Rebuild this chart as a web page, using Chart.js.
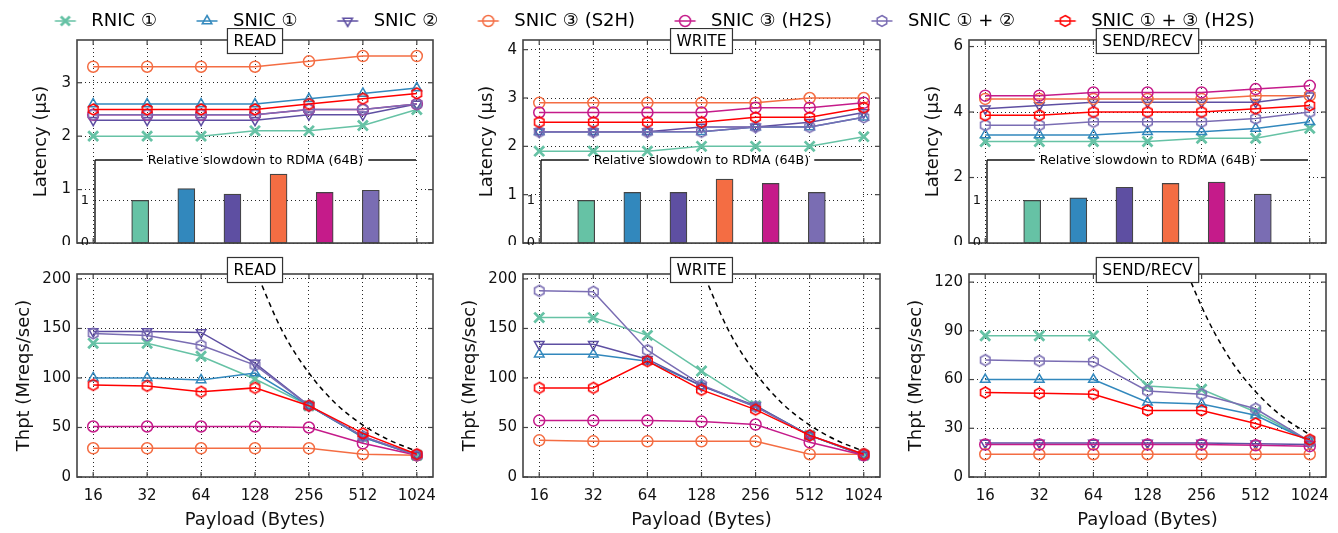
<!DOCTYPE html>
<html>
<head>
<meta charset="utf-8">
<script src="https://cdn.jsdelivr.net/npm/chart.js@4.4.1/dist/chart.umd.min.js"></script>
<style>
html,body{margin:0;padding:0;background:#fff;}
#wrap{position:relative;width:1338px;height:533px;overflow:hidden;background:#fff;}
#wrap canvas{position:absolute;}
</style>
</head>
<body>
<div id="wrap"></div>
<script>
const PAYLOADS = [16, 32, 64, 128, 256, 512, 1024];
const SERIES = ['RNIC ①', 'SNIC ①', 'SNIC ②', 'SNIC ③ (S2H)', 'SNIC ③ (H2S)', 'SNIC ① + ②', 'SNIC ① + ③ (H2S)'];
const COLORS = ['#66c2a5', '#3288bd', '#5e4fa2', '#f46d43', '#c51b8a', '#7a6db3', '#ff0000'];
const MARKERS = ['crossRot', 'triangle', 'triangleDown', 'circle', 'circle', 'hexagon', 'hexagon'];

// latency (us), one row per series
const readLatency = [
  [2.0, 2.0, 2.0, 2.1, 2.1, 2.2, 2.5],
  [2.6, 2.6, 2.6, 2.6, 2.7, 2.8, 2.9],
  [2.3, 2.3, 2.3, 2.3, 2.4, 2.4, 2.6],
  [3.3, 3.3, 3.3, 3.3, 3.4, 3.5, 3.5],
  [2.4, 2.4, 2.4, 2.4, 2.5, 2.5, 2.6],
  [2.4, 2.4, 2.4, 2.4, 2.5, 2.5, 2.6],
  [2.5, 2.5, 2.5, 2.5, 2.6, 2.7, 2.8]
];
const writeLatency = [
  [1.9, 1.9, 1.9, 2.0, 2.0, 2.0, 2.2],
  [2.3, 2.3, 2.3, 2.3, 2.4, 2.4, 2.6],
  [2.3, 2.3, 2.3, 2.4, 2.4, 2.5, 2.7],
  [2.9, 2.9, 2.9, 2.9, 2.9, 3.0, 3.0],
  [2.7, 2.7, 2.7, 2.7, 2.8, 2.8, 2.9],
  [2.3, 2.3, 2.3, 2.3, 2.4, 2.4, 2.6],
  [2.5, 2.5, 2.5, 2.5, 2.6, 2.6, 2.8]
];
const sendLatency = [
  [3.1, 3.1, 3.1, 3.1, 3.2, 3.2, 3.5],
  [3.3, 3.3, 3.3, 3.4, 3.4, 3.5, 3.7],
  [4.1, 4.2, 4.3, 4.3, 4.3, 4.3, 4.5],
  [4.4, 4.4, 4.4, 4.4, 4.4, 4.5, 4.5],
  [4.5, 4.5, 4.6, 4.6, 4.6, 4.7, 4.8],
  [3.6, 3.6, 3.7, 3.7, 3.7, 3.8, 4.0],
  [3.9, 3.9, 4.0, 4.0, 4.0, 4.1, 4.2]
];

// throughput (Mreqs/sec)
const readThpt = [
  [135, 135, 122, 99, 72, 40, 22],
  [100, 100, 98, 105, 72, 40, 22],
  [147, 147, 146, 115, 72, 41, 22],
  [29, 29, 29, 29, 29, 23, 22],
  [51, 51, 51, 51, 50, 34, 22],
  [145, 143, 133, 113, 72, 41, 22],
  [93, 92, 86, 90, 72, 44, 23]
];
const writeThpt = [
  [161, 161, 143, 107, 72, 42, 22],
  [124, 124, 117, 92, 71, 42, 22],
  [134, 134, 119, 92, 72, 42, 22],
  [37, 36, 36, 36, 36, 23, 23],
  [57, 57, 57, 56, 53, 35, 22],
  [188, 187, 128, 93, 71, 42, 23],
  [90, 90, 117, 88, 68, 42, 23]
];
const sendThpt = [
  [87, 87, 87, 56, 54, 40, 22],
  [60, 60, 60, 46, 45, 38, 22],
  [21, 21, 21, 21, 21, 20.5, 20],
  [14, 14, 14, 14, 14, 14, 14],
  [20, 20, 20, 20, 20, 19.5, 19],
  [72, 71.5, 71, 53, 51, 42, 22],
  [52, 51.5, 51, 41, 41, 33, 23]
];

// dashed bound curve
const BOUND_PAYLOAD = [128, 181, 256, 362, 512, 724, 1024];
const BOUND_THPT = [210, 148, 105, 74, 52.5, 37, 26];

// inset: relative slowdown to RDMA (64B), first six series
const readSlowdown = [1.0, 1.28, 1.15, 1.62, 1.19, 1.24];
const writeSlowdown = [1.0, 1.19, 1.19, 1.5, 1.40, 1.19];
const sendSlowdown = [1.0, 1.06, 1.31, 1.40, 1.43, 1.15];

const FONT = 'DejaVu Sans';
Chart.defaults.font.family = FONT;
Chart.defaults.color = '#000';

const PANELS = [
  {name: 'READ', lat: readLatency, latMax: 3.8, latStep: 1, thpt: readThpt, thptMax: 205, thptStep: 50, slow: readSlowdown},
  {name: 'WRITE', lat: writeLatency, latMax: 4.2, latStep: 1, thpt: writeThpt, thptMax: 205, thptStep: 50, slow: writeSlowdown},
  {name: 'SEND/RECV', lat: sendLatency, latMax: 6.2, latStep: 2, thpt: sendThpt, thptMax: 125, thptStep: 30, slow: sendSlowdown}
];
const PLOT_LEFT = [77, 523, 969], PLOT_RIGHT = [433, 880, 1326];
const INSET_X = [[95, 416], [541, 862], [987, 1308]];

function addCanvas(left, top, w, h){
  const c = document.createElement('canvas');
  c.width = w; c.height = h;
  c.style.left = left + 'px'; c.style.top = top + 'px';
  c.style.width = w + 'px'; c.style.height = h + 'px';
  document.getElementById('wrap').appendChild(c);
  return c;
}

// glyph drawn at (cx, cy); used for hexagon points and legend swatches
function markerImg(style, color, w, h, cx, lineFrom, lineTo){
  const c = document.createElement('canvas');
  c.width = w; c.height = h;
  const g = c.getContext('2d');
  const cy = h / 2, r = 5.5;
  g.strokeStyle = color; g.lineWidth = 1.5;
  if(lineTo > lineFrom){ g.beginPath(); g.moveTo(lineFrom, cy); g.lineTo(lineTo, cy); g.stroke(); }
  g.beginPath();
  if(style === 'circle'){ g.arc(cx, cy, r, 0, Math.PI * 2); }
  else if(style === 'hexagon'){
    for(let k = 0; k < 6; k++){
      const a = -Math.PI / 2 + k * Math.PI / 3;
      const px = cx + Math.cos(a) * r, py = cy + Math.sin(a) * r;
      if(k === 0) g.moveTo(px, py); else g.lineTo(px, py);
    }
    g.closePath();
  }
  else if(style === 'triangle'){ g.moveTo(cx, cy - r); g.lineTo(cx + r * 0.87, cy + r * 0.5); g.lineTo(cx - r * 0.87, cy + r * 0.5); g.closePath(); }
  else if(style === 'triangleDown'){ g.moveTo(cx, cy + r); g.lineTo(cx + r * 0.87, cy - r * 0.5); g.lineTo(cx - r * 0.87, cy - r * 0.5); g.closePath(); }
  else { g.lineWidth = 2.8; const d = 4.5; g.moveTo(cx - d, cy - d); g.lineTo(cx + d, cy + d); g.moveTo(cx + d, cy - d); g.lineTo(cx - d, cy + d); }
  g.stroke();
  return c;
}

const hexImgs = COLORS.map(function(c){ return markerImg('hexagon', c, 15, 15, 7.5, 0, 0); });
const LEG_W = 55;
const legendImgs = MARKERS.map(function(m, i){ return markerImg(m, COLORS[i], LEG_W, 16, 38, 27.5, 48.5); });

function lineSets(rows){
  return rows.map(function(vals, i){
    const m = MARKERS[i];
    return {
      label: SERIES[i],
      data: PAYLOADS.map(function(p, k){ return {x: p, y: vals[k]}; }),
      borderColor: COLORS[i],
      backgroundColor: COLORS[i],
      borderWidth: 1.5,
      pointStyle: m === 'triangleDown' ? 'triangle' : (m === 'hexagon' ? hexImgs[i] : m),
      pointRotation: m === 'triangleDown' ? 180 : 0,
      pointRadius: m === 'crossRot' ? 7 : 5.5,
      pointBorderWidth: m === 'crossRot' ? 2.8 : 1.5,
      pointBackgroundColor: 'rgba(0,0,0,0)',
      pointBorderColor: COLORS[i],
      tension: 0,
      order: rows.length - i
    };
  });
}

function line(ctx, x1, y1, x2, y2){ ctx.beginPath(); ctx.moveTo(x1, y1); ctx.lineTo(x2, y2); ctx.stroke(); }

const panelDecor = {
  id: 'panelDecor',
  afterDraw(chart, args, o){
    const ctx = chart.ctx, a = chart.chartArea, xs = chart.scales.x, ys = chart.scales.y;
    ctx.save();
    ctx.strokeStyle = '#444'; ctx.lineWidth = 1.2;
    ys.ticks.forEach(function(t){
      const p = ys.getPixelForValue(t.value);
      line(ctx, a.left, p, a.left + 5, p); line(ctx, a.right - 5, p, a.right, p);
    });
    xs.ticks.forEach(function(t){
      const p = xs.getPixelForValue(t.value);
      line(ctx, p, a.top, p, a.top + 5); line(ctx, p, a.bottom - 5, p, a.bottom);
    });
    ctx.lineWidth = 1.6;
    ctx.strokeRect(a.left, a.top, a.right - a.left, a.bottom - a.top);
    ctx.font = '15.5px "' + FONT + '"';
    const w = ctx.measureText(o.text).width + 12, h = 25;
    const cx = (a.left + a.right) / 2, cy = a.top + o.dy;
    ctx.fillStyle = '#fff'; ctx.fillRect(cx - w / 2, cy - h / 2, w, h);
    ctx.lineWidth = 1.2; ctx.strokeStyle = '#333'; ctx.strokeRect(cx - w / 2, cy - h / 2, w, h);
    ctx.fillStyle = '#000'; ctx.textAlign = 'center'; ctx.textBaseline = 'middle';
    ctx.fillText(o.text, cx, cy + 1);
    ctx.restore();
  }
};

const insetDecor = {
  id: 'insetDecor',
  beforeDraw(chart){
    const a = chart.chartArea, ctx = chart.ctx;
    ctx.save(); ctx.fillStyle = '#fff'; ctx.fillRect(a.left, a.top, a.right - a.left, a.bottom - a.top); ctx.restore();
  },
  afterDraw(chart, args, o){
    const a = chart.chartArea, ctx = chart.ctx;
    ctx.save();
    ctx.strokeStyle = '#111'; ctx.lineWidth = 1.4;
    line(ctx, a.left, a.top, a.left, a.bottom);
    ctx.strokeStyle = '#444'; ctx.lineWidth = 1.6;
    line(ctx, a.left, a.bottom, a.right, a.bottom);
    ctx.font = '12.7px "' + FONT + '"';
    const tw = ctx.measureText(o.text).width, cx = (a.left + a.right) / 2;
    ctx.strokeStyle = '#111'; ctx.lineWidth = 1.4;
    line(ctx, a.left, a.top, cx - tw / 2 - 5, a.top);
    line(ctx, cx + tw / 2 + 5, a.top, a.right, a.top);
    ctx.fillStyle = '#000'; ctx.textAlign = 'center'; ctx.textBaseline = 'middle';
    ctx.fillText(o.text, cx, a.top + 1);
    ctx.restore();
  }
};

const GRID = {color: 'rgba(0,0,0,0.85)', lineWidth: 1, drawTicks: false};
const BORDER = {display: false, dash: [1, 3]};

function fixW(width){ return function(s){ s.width = width; s.paddingTop = 0; s.paddingBottom = 0; }; }
function fixH(height){ return function(s){ s.height = height; s.paddingLeft = 0; s.paddingRight = 0; }; }

function xAxis(showLabels, height){
  return {
    type: 'logarithmic',
    min: PAYLOADS[0] / Math.pow(2, 0.3),
    max: PAYLOADS[PAYLOADS.length - 1] * Math.pow(2, 0.3),
    afterBuildTicks: function(s){ s.ticks = PAYLOADS.map(function(v){ return {value: v}; }); },
    afterFit: fixH(height),
    grid: GRID, border: BORDER,
    ticks: {display: showLabels, autoSkip: false, maxRotation: 0, padding: 10, color: '#111',
      font: {size: 15}, callback: function(v){ return String(v); }},
    title: {display: showLabels, text: 'Payload (Bytes)', font: {size: 18}, color: '#111', padding: {top: 0, bottom: 2}}
  };
}

function yAxis(max, step, title, width){
  return {
    min: 0, max: max,
    afterFit: fixW(width),
    grid: GRID, border: BORDER,
    ticks: {stepSize: step, includeBounds: false, padding: 6, color: '#111', font: {size: 15}},
    title: {display: true, text: title, font: {size: 18}, color: '#111', padding: {top: 4, bottom: 0}}
  };
}

PANELS.forEach(function(P, col){
  const pl = PLOT_LEFT[col], pr = PLOT_RIGHT[col];

  // latency panel
  const cTop = addCanvas(pl - 50, 28, pr + 2 - (pl - 50), 217);
  new Chart(cTop, {
    type: 'line',
    data: {datasets: lineSets(P.lat)},
    options: {
      responsive: false, animation: false, devicePixelRatio: 1,
      layout: {autoPadding: false, padding: {top: 12, right: 2, bottom: 2, left: 0}},
      scales: {x: xAxis(false, 0), y: yAxis(P.latMax, P.latStep, 'Latency (μs)', 50)},
      plugins: {legend: {display: false}, tooltip: {enabled: false}, panelDecor: {text: P.name, dy: 1}}
    },
    plugins: [panelDecor]
  });

  // inset bar chart
  const ix = INSET_X[col];
  const cIn = addCanvas(ix[0] - 25, 150, ix[1] + 2 - (ix[0] - 25), 95);
  new Chart(cIn, {
    type: 'bar',
    data: {datasets: [{
      label: 'slowdown',
      data: P.slow.map(function(v, k){ return {x: k, y: v}; }),
      backgroundColor: COLORS.slice(0, P.slow.length),
      borderColor: '#444', borderWidth: 1.2, borderSkipped: false,
      barThickness: 17
    }]},
    options: {
      responsive: false, animation: false, devicePixelRatio: 1,
      layout: {autoPadding: false, padding: {top: 10, right: 2, bottom: 2, left: 0}},
      scales: {
        x: {type: 'linear', display: false, min: -0.4, max: P.slow.length - 0.6},
        y: {min: 0, max: 1.95,
          afterFit: fixW(25),
          afterBuildTicks: function(s){ s.ticks = [{value: 0}, {value: 1}]; },
          grid: {color: 'rgba(0,0,0,0.85)', drawTicks: false, lineWidth: function(c){ return c.tick && c.tick.value === 1 ? 1 : 0; }},
          border: {display: false, dash: [1, 3]},
          ticks: {padding: 6, color: '#111', font: {size: 13}}}
      },
      plugins: {legend: {display: false}, tooltip: {enabled: false}, insetDecor: {text: 'Relative slowdown to RDMA (64B)'}}
    },
    plugins: [insetDecor]
  });

  // throughput panel
  const sets = lineSets(P.thpt);
  sets.push({
    label: 'bound',
    data: BOUND_PAYLOAD.map(function(p, k){ return {x: p, y: BOUND_THPT[k]}; }),
    borderColor: '#000', borderWidth: 1.5, borderDash: [5, 4],
    pointRadius: 0, cubicInterpolationMode: 'monotone', order: 20
  });
  const cBot = addCanvas(pl - 67, 256, pr + 2 - (pl - 67), 277);
  new Chart(cBot, {
    type: 'line',
    data: {datasets: sets},
    options: {
      responsive: false, animation: false, devicePixelRatio: 1,
      layout: {autoPadding: false, padding: {top: 18, right: 2, bottom: 0, left: 0}},
      scales: {x: xAxis(true, 56), y: yAxis(P.thptMax, P.thptStep, 'Thpt (Mreqs/sec)', 67)},
      plugins: {legend: {display: false}, tooltip: {enabled: false}, panelDecor: {text: P.name, dy: -4}}
    },
    plugins: [panelDecor]
  });
});

// shared legend across the top
const cLeg = addCanvas(0, 0, 1338, 120);
cLeg.style.pointerEvents = 'none';
new Chart(cLeg, {
  type: 'line',
  data: {datasets: SERIES.map(function(s, i){ return {label: s, data: [], borderColor: COLORS[i]}; })},
  options: {
    responsive: false, animation: false, devicePixelRatio: 1,
    layout: {autoPadding: false, padding: {left: 0, right: 56, top: 0, bottom: 0}},
    scales: {x: {display: false}, y: {display: false}},
    plugins: {
      tooltip: {enabled: false},
      legend: {display: true, position: 'top', align: 'center',
        labels: {usePointStyle: true, pointStyleWidth: LEG_W, boxHeight: 16, padding: 12, color: '#000', font: {size: 18},
          generateLabels: function(){
            return SERIES.map(function(s, i){
              return {text: s, pointStyle: legendImgs[i], fillStyle: 'rgba(0,0,0,0)', strokeStyle: 'rgba(0,0,0,0)',
                lineWidth: 0, hidden: false, datasetIndex: i, fontColor: '#000'};
            });
          }}}
    }
  }
});
</script>
</body>
</html>
